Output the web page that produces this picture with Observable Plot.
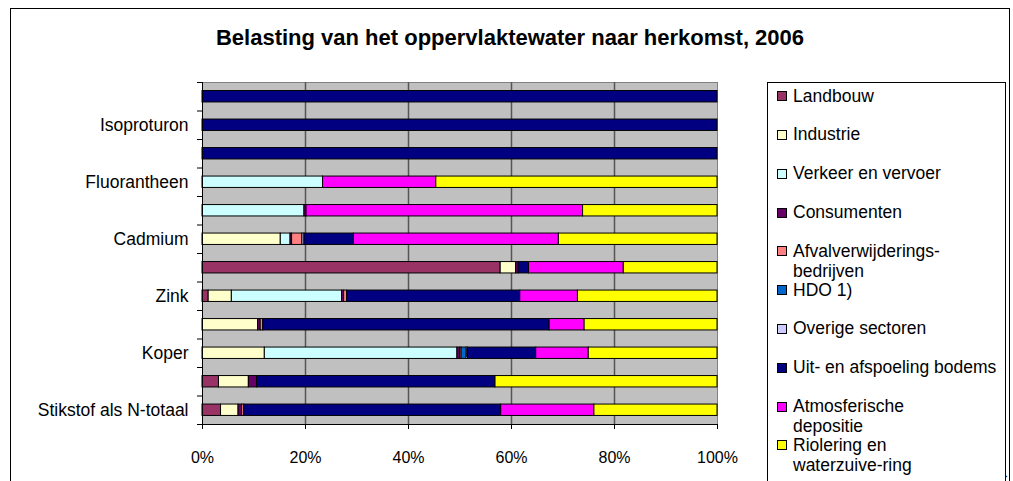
<!DOCTYPE html>
<html><head><meta charset="utf-8">
<script src="https://cdn.jsdelivr.net/npm/d3@7"></script>
<script src="https://cdn.jsdelivr.net/npm/@observablehq/plot@0.6"></script>
<style>
body{margin:0;background:#fff;font-family:'Liberation Sans',Arial,sans-serif;}
#wrap{position:relative;width:1013px;height:481px;overflow:hidden;background:#fff;}
#border{position:absolute;left:10px;top:8px;width:1000px;height:490px;border:1px solid #000;box-sizing:border-box;}
#title{position:absolute;left:0;top:26.5px;width:1020px;text-align:center;font-weight:bold;font-size:22px;line-height:22px;color:#000;white-space:nowrap;}
#chart{position:absolute;left:0;top:0;}
#legend{position:absolute;left:767px;top:82px;width:239px;height:420px;border:1px solid #000;box-sizing:border-box;background:#fff;}
.sw{position:absolute;width:10px;height:10px;border:1px solid #000;box-sizing:border-box;}
.lt{position:absolute;font-size:17.5px;line-height:20.5px;color:#000;white-space:pre;}
</style>
</head><body>
<div id="wrap">
  <div id="border"></div>
  <div id="title"></div>
  <div id="chart"></div>
  <div id="legend"></div>
</div>
<script>
const title = "Belasting van het oppervlaktewater naar herkomst, 2006";

// rows from bottom to top; only every other row carries a visible label
const categories = ["Stikstof als N-totaal", "", "Koper", "", "Zink", "", "Cadmium", "", "Fluorantheen", "", "Isoproturon", ""];

const sources = ["Landbouw", "Industrie", "Verkeer en vervoer", "Consumenten", "Afvalverwijderingsbedrijven", "HDO 1)", "Overige sectoren", "Uit- en afspoeling bodems", "Atmosferische depositie", "Riolering en waterzuivering"];
const legendLabels = ["Landbouw", "Industrie", "Verkeer en vervoer", "Consumenten", "Afvalverwijderings-\nbedrijven", "HDO 1)", "Overige sectoren", "Uit- en afspoeling bodems", "Atmosferische\ndepositie", "Riolering en\nwaterzuive-ring"];
const colors = ["#993366", "#FFFFCC", "#CCFFFF", "#660066", "#FF8080", "#0066CC", "#CCCCFF", "#000080", "#FF00FF", "#FFFF00"];

// percentages per source, one value per row (bottom to top)
const landbouw      = [3.6, 3.2, 0,    0,    1.2,  57.9, 0,    0,    0,    0,   0,   0];
const industrie     = [3.4, 5.8, 12.1, 10.8, 4.5,  3.0,  15.2, 0,    0,    0,   0,   0];
const verkeer       = [0,   0,   37.4, 0,    21.4, 0,    1.9,  19.8, 23.4, 0,   0,   0];
const consumenten   = [0.7, 1.6, 0.5,  0.5,  0.4,  0.5,  0.3,  0.4,  0,    0,   0,   0];
const afval         = [0.4, 0,   0.3,  0.5,  0.6,  0,    2.0,  0,    0,    0,   0,   0];
const hdo           = [0,   0,   1.0,  0,    0,    0,    0,    0,    0,    0,   0,   0];
const overige       = [0,   0,   0.2,  0,    0,    0,    0.4,  0,    0,    0,   0,   0];
const uitspoeling   = [49.9,46.3,13.3, 55.6, 33.6, 2.0,  9.6,  0,    0,    100, 100, 100];
const atmosferisch  = [18.1,0,   10.2, 6.8,  11.2, 18.4, 39.8, 53.7, 22.0, 0,   0,   0];
const riolering     = [23.9,43.1,25.0, 25.8, 27.1, 18.2, 30.8, 26.1, 54.6, 0,   0,   0];

const xTicks = [0, 20, 40, 60, 80, 100];

const series = [landbouw, industrie, verkeer, consumenten, afval, hdo, overige, uitspoeling, atmosferisch, riolering];
const data = [];
categories.forEach((c, i) => {
  series.forEach((s, k) => {
    if (s[i] > 0) data.push({row: i, y1: i + 0.3, y2: i + 0.7, source: sources[k], value: s[i]});
  });
});
const labelRows = categories.map((c, i) => i).filter(i => categories[i] !== "");

document.getElementById("title").textContent = title;

const plot = Plot.plot({
  width: 1013,
  height: 481,
  marginLeft: 202,
  marginRight: 296,
  marginTop: 82,
  marginBottom: 57,
  style: {fontFamily: "'Liberation Sans', Arial, sans-serif", fontSize: "16px", background: "transparent", color: "#000", overflow: "visible"},
  x: {domain: [0, 100], axis: null},
  y: {domain: [0, categories.length], axis: null},
  color: {domain: sources, range: colors},
  marks: [
    Plot.frame({fill: "#C0C0C0", stroke: "#808080"}),
    Plot.ruleX(xTicks.filter(d => d > 0 && d < 100), {stroke: "#555", strokeWidth: 1.5}),
    Plot.rect(data, Plot.stackX({x: "value", y1: "y1", y2: "y2", fill: "source", stroke: "#000", strokeWidth: 1})),
    Plot.ruleX([0], {stroke: "#000"}),
    Plot.ruleY([0], {stroke: "#000"}),
    Plot.axisX({ticks: xTicks, tickFormat: d => d + "%", tickSize: 5, tickPadding: 22, fontSize: 16, stroke: "#000", fill: "#000"}),
    Plot.axisY({ticks: d3.range(0, categories.length + 1), tickFormat: () => "", tickSize: 5, stroke: "#000"}),
    Plot.axisY({ticks: labelRows.map(i => i + 0.5), tickFormat: d => categories[Math.floor(d)], tickSize: 0, tickPadding: 14, fontSize: 17.5, fill: "#000"})
  ]
});
document.getElementById("chart").appendChild(plot);

// legend
const wrap = document.getElementById("wrap");
sources.forEach((s, k) => {
  const cy = 95.7 + k * 38.8;
  const sw = document.createElement("div");
  sw.className = "sw";
  sw.style.left = "777px";
  sw.style.top = (cy - 4.5) + "px";
  sw.style.background = colors[k];
  wrap.appendChild(sw);
  const t = document.createElement("div");
  t.className = "lt";
  t.style.left = "793px";
  t.style.top = (cy - 10.2) + "px";
  t.textContent = legendLabels[k];
  wrap.appendChild(t);
});
</script>
</body></html>
